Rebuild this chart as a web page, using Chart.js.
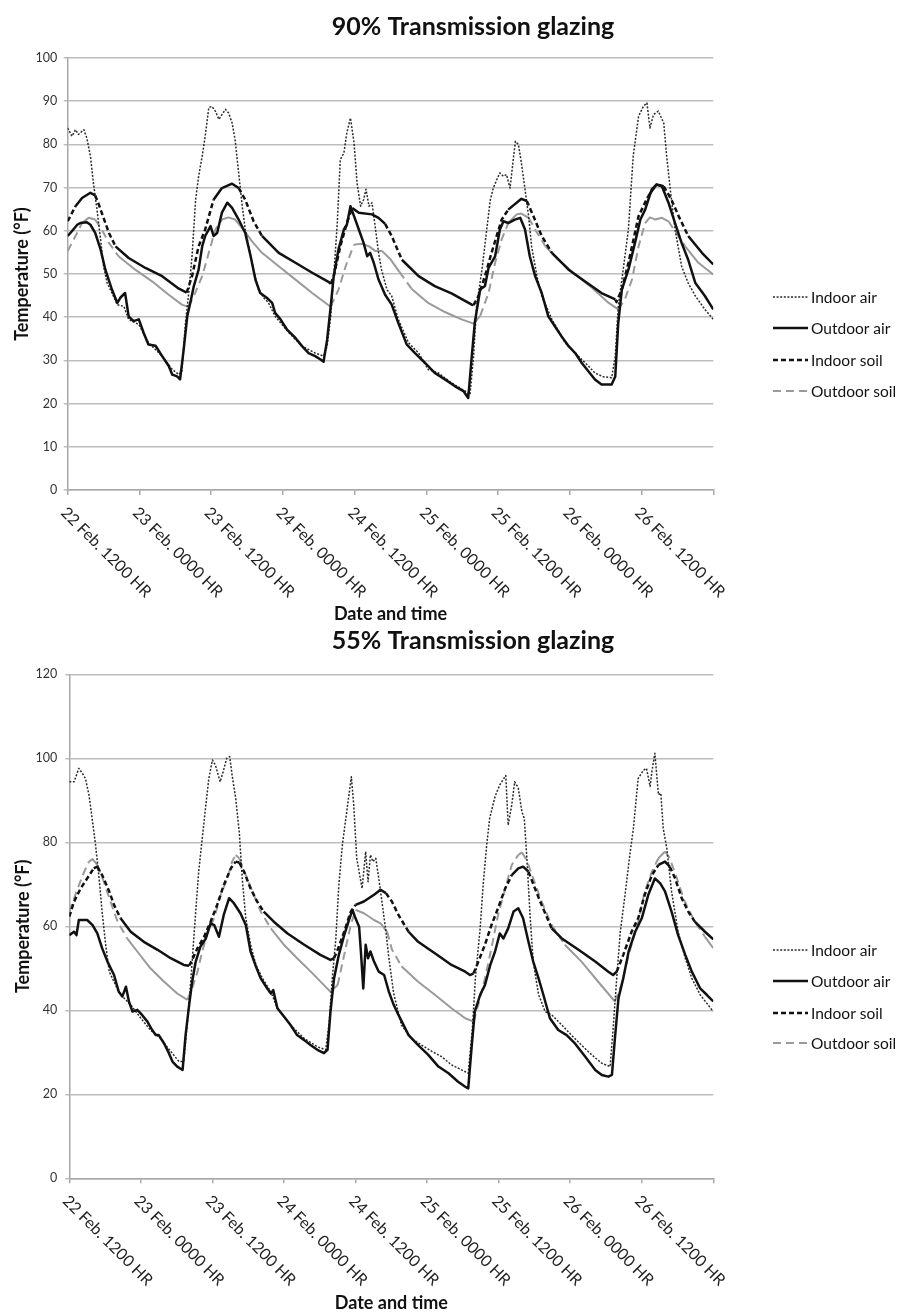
<!DOCTYPE html>
<html>
<head>
<meta charset="utf-8">
<script src="https://cdn.jsdelivr.net/npm/chart.js@4.4.1/dist/chart.umd.min.js"></script>
<style>
html,body{margin:0;padding:0;background:#fff;}
#wrap{position:relative;width:900px;height:1312px;overflow:hidden;}
.box{position:absolute;left:0;width:900px;}
canvas{display:block;}
</style>
</head>
<body>
<div id="wrap">
  <div class="box" style="top:0;height:626px"><canvas id="c90" width="900" height="626"></canvas></div>
  <div class="box" style="top:626px;height:686px"><canvas id="c55" width="900" height="686"></canvas></div>
</div>
<script>
// ---------- tick labels / axis ----------
const tickLabels = ['22 Feb. 1200 HR','23 Feb. 0000 HR','23 Feb. 1200 HR','24 Feb. 0000 HR','24 Feb. 1200 HR','25 Feb. 0000 HR','25 Feb. 1200 HR','26 Feb. 0000 HR','26 Feb. 1200 HR'];
const tickHours = [0,12,24,36,48,60,72,84,96,108];   // hours after 22 Feb 1200 HR
const seriesNames = ['Indoor air','Outdoor air','Indoor soil','Outdoor soil'];

// ---------- 90% transmission glazing: [hour, °F] ----------
const g90IndoorAir = [[0,83.8],[0.7,81.9],[1.3,83.4],[1.8,82.3],[2.7,83.4],[3.2,81.5],[3.8,77.3],[4.3,71.1],[4.9,64.9],[5.5,58],[6,51.8],[6.6,47.9],[7.4,45.6],[8.3,42.9],[9.4,42.5],[10.2,39.5],[11.9,38.3],[13.5,34.1],[15.8,31],[17.5,27.9],[18.6,26.7],[19.1,27.5],[19.7,38.7],[20.2,44.9],[20.8,54.1],[21.4,67.2],[21.9,72.6],[22.5,77.3],[23,81.9],[23.6,88.5],[24.1,88.8],[24.7,87.7],[25.3,85.8],[25.8,86.9],[26.4,88.1],[26.9,87.3],[27.5,85],[28,81.1],[28.6,73.4],[29.2,65.7],[29.7,60.3],[30.3,56.4],[31.1,51],[31.9,46.4],[32.8,44.5],[33.6,43.3],[34.7,40.2],[37,36.4],[39.2,33.3],[41.4,31.7],[42.8,31],[43.4,33.3],[44,40.2],[44.5,49.5],[45.1,61.8],[45.6,76.5],[46.2,78],[46.7,82.7],[47.3,86.1],[47.9,80.4],[48.4,71.1],[49,65.7],[49.5,67.2],[49.9,69.6],[50.4,65.7],[50.9,66.5],[51.5,60.3],[52,54.9],[52.5,51],[53.4,46.4],[54.2,44.9],[55.3,39.5],[57,34.1],[58.7,31.7],[60.3,27.9],[62,27.1],[64.2,24.8],[66.5,22.9],[67.3,22.1],[67.9,31],[68.4,42.5],[69.3,51],[70.1,60.3],[70.7,67.2],[71.2,69.9],[71.8,71.9],[72.3,73.4],[72.9,72.6],[73.4,73],[74,69.9],[74.6,77.3],[74.9,80.7],[75.4,80],[75.9,75.7],[76.5,69.6],[77.1,63.4],[77.6,56.4],[78.5,49.5],[79.3,44.9],[81,39.5],[83.2,34.1],[85.4,31],[87.1,28.7],[88.2,27.1],[89.6,26.2],[91,26],[91.6,31],[92.1,42.5],[93,51.8],[93.8,60.3],[94.6,77.3],[95.5,86.5],[96.3,88.8],[96.9,89.6],[97.4,83.8],[98,86.9],[98.8,87.7],[99.7,85],[100.2,77.3],[100.8,69.6],[101.6,60.3],[102.7,51.8],[103.8,47.9],[105,44.9],[106.6,41.8],[108,39.5]];
const g90OutdoorAir = [[0,58.8],[0.7,59.9],[1.6,61.4],[2.1,61.8],[3.2,62],[3.8,61.4],[4.6,59.5],[5.5,55.7],[6.3,51],[7.4,46.4],[8.3,43.3],[8.8,44.5],[9.6,45.6],[10.2,40.2],[11,39.1],[11.9,39.5],[12.7,36.4],[13.5,33.7],[14.7,33.4],[15.8,31],[16.9,28.7],[17.5,26.7],[18.3,26.3],[18.8,25.6],[19.4,32.5],[20,40.2],[20.5,43.3],[21.1,47.2],[21.9,51],[22.5,56.4],[23,58.8],[23.9,61.1],[24.4,58.8],[25,59.5],[25.8,64.2],[26.7,66.5],[27.5,65.3],[28.6,62.6],[29.7,59.5],[30.6,54.1],[31.4,48.7],[32.2,45.6],[33.3,44.5],[34.2,43.3],[34.7,41],[35.6,39.5],[36.7,37.1],[38.1,35.2],[39.2,33.3],[40.3,31.7],[41.4,31],[42.3,30.2],[42.8,29.7],[43.4,34.8],[44,42.5],[44.5,49.5],[45.3,55.7],[46.2,60.3],[46.7,61.4],[47.3,65.7],[47.9,63.4],[48.7,60.3],[49.5,57.2],[50.1,54.1],[50.6,54.9],[51.2,52.6],[52,48.7],[53.1,45.2],[54.2,42.9],[55.3,38.7],[56.7,33.7],[58.1,31.7],[59.8,29.4],[61.4,27.1],[63.1,25.6],[64.8,24],[66.2,22.9],[67,21.3],[67.6,31],[68.1,38.7],[69,46.4],[69.8,47.2],[70.4,51.4],[71.5,54.1],[72.3,60.3],[72.9,62.2],[73.7,61.8],[74.8,62.6],[75.7,63],[76.5,60.3],[77.3,54.1],[78.2,49.5],[79.3,45.6],[80.4,40.2],[81.5,37.9],[82.6,35.6],[83.8,33.3],[84.9,31.7],[86,29.4],[87.1,27.5],[88.2,25.6],[89.3,24.4],[91,24.4],[91.6,26.3],[92.1,38.7],[92.7,46.4],[93.8,51],[94.9,57.2],[95.8,62.6],[96.6,64.9],[97.7,69.6],[98.5,70.7],[99.4,70.3],[100.5,66.5],[101.6,61.8],[102.7,57.2],[103.8,53.3],[105,47.9],[106.6,44.9],[108,41.8]];
const g90IndoorSoil = [[0,62.2],[1.3,65.7],[2.4,67.6],[3.8,68.8],[4.6,68.2],[5.2,66.1],[6.9,59.5],[8,56.4],[10.2,53.7],[13,51.4],[15.8,49.5],[18.6,46.6],[19.9,45.7],[20.8,49.5],[21.9,56.4],[23,60.3],[24.4,67.2],[25.8,69.9],[27.5,70.9],[28.6,69.9],[29.7,67.2],[31.1,62.2],[32.5,58.8],[35.3,54.9],[38.1,52.6],[40.9,50.3],[43.7,48.1],[44,47.7],[44.5,49.5],[45.6,56.4],[46.7,61.8],[47.6,65.3],[48.7,64.2],[50.9,63.8],[52,63],[53.1,61.6],[54.2,58.8],[55.9,53.3],[58.7,49.5],[61.4,47.2],[64.2,45.5],[67.6,42.9],[67.9,42.8],[68.7,44.9],[69.8,49.5],[70.9,54.9],[72.6,62.6],[73.7,64.9],[75.9,67.4],[76.8,66.9],[77.9,63.4],[79.3,58.8],[81,54.9],[83.8,51],[86.5,48.3],[89.3,45.6],[91.6,44.1],[91.8,43.5],[92.7,46.4],[93.8,52.6],[95.5,63.4],[97.1,68],[98.5,70.7],[99.7,70.3],[101,67.2],[102.2,63.4],[103.8,58.8],[106.1,54.9],[108,52.2]];
const g90OutdoorSoil = [[0,55.3],[1.3,58.8],[2.4,61.8],[3.5,63],[4.6,62.6],[5.7,60.3],[6.9,57.2],[8.5,54.1],[11.3,51],[14.1,48.3],[16.9,45.2],[19.1,42.9],[20.2,42.4],[21.1,44.9],[22.5,49.5],[23.6,54.9],[24.7,60.3],[25.8,62.6],[26.9,63.1],[28,62.6],[29.4,60.3],[30.8,57.6],[32.5,54.9],[35.3,51.8],[38.1,48.7],[40.9,45.6],[43.7,42.7],[44,42.5],[45.3,46.4],[46.5,51.8],[47.9,56.8],[49.2,57],[50.4,56.4],[51.5,55.3],[52.6,55.3],[54,53.4],[55.5,50.5],[57.5,46.6],[60.3,43.3],[63.1,41.2],[65.9,39.5],[67.9,38.5],[69,40.3],[70.4,45.6],[71.5,52.6],[72.6,58],[73.7,61.8],[75.1,63.8],[75.9,64],[77.1,63],[78.2,60.3],[79.9,56.4],[82.1,53.3],[84.9,49.9],[87.7,46.8],[90.5,43.3],[92.1,41.8],[93.2,44.1],[94.4,48.7],[95.5,56.4],[96.6,61.8],[97.4,63.1],[98.3,62.6],[99.4,63],[100.5,62.2],[101.6,59.9],[103.3,56.4],[105.5,52.6],[108,49.9]];

// ---------- 55% transmission glazing: [hour, °F] ----------
const g55IndoorAir = [[0,94.4],[0.8,94.4],[1.6,97.6],[2.2,96.4],[2.7,95.2],[3.3,91.3],[3.9,84.9],[4.4,79.4],[5,71.4],[5.5,63.5],[6.1,55.6],[6.7,49.2],[7.5,46.8],[8.3,44.4],[8.9,43.3],[10.3,41.3],[12,38.1],[13.6,35.3],[15.3,33.3],[17,30.2],[18.4,27.8],[19.2,27.8],[19.8,37.3],[20.2,43.7],[20.6,51.6],[21.2,63.5],[21.7,73],[22.3,81],[22.9,88.9],[23.4,95.2],[24,99.6],[24.5,98.4],[25.3,94.4],[25.8,96.8],[26.4,100],[26.9,100.4],[27.3,96],[27.9,90.5],[28.5,82.5],[29,71.4],[29.6,61.9],[30.4,55.6],[31.3,50.8],[32.4,47.6],[33.8,44.4],[34.9,40.5],[37.1,36.5],[39.4,33.3],[41.6,31.3],[43,30.6],[43.6,37.3],[44.1,47.6],[44.7,57.1],[45.2,69.8],[45.8,79.4],[46.3,84.9],[46.9,91.3],[47.3,95.6],[47.7,88.9],[48.2,76.2],[48.8,71.4],[49.1,69],[49.7,77.8],[50.1,70.6],[50.5,77],[50.9,75.4],[51.4,76.2],[51.9,71.4],[52.5,65.1],[53.1,58.7],[53.6,52.4],[54.4,44],[55.7,36.5],[57.4,33.3],[59.1,31.7],[60.8,30.2],[62.4,29],[64.1,27],[65.8,25.8],[66.9,25],[67.6,35.7],[68.1,47.6],[68.9,59.5],[69.4,69.8],[70,79.4],[70.5,85.7],[71.4,90.9],[72.2,93.7],[73.2,95.9],[73.6,84.1],[74.2,88.9],[74.7,94.4],[75.3,92.9],[75.9,87.3],[76.3,85.7],[76.7,77],[77.3,61.9],[77.8,51.6],[78.7,43.7],[79.8,39.7],[80.9,38.9],[82.6,36.5],[84.2,34.1],[85.9,31.7],[87.6,29.4],[89.3,27.4],[90.7,26.6],[91.2,35.7],[91.8,47.6],[92.4,58.7],[93.2,67.5],[94,77],[94.6,83.3],[95.4,95.2],[96.3,97.2],[96.8,97.6],[97.4,93.3],[97.7,96.8],[98.2,101.2],[98.8,91.3],[99.2,91.7],[99.6,83.3],[100.2,78.6],[101,68.3],[102.1,58.7],[103.3,52.4],[104.4,47.6],[105.8,43.7],[106.9,41.7],[108,39.7]];
const g55OutdoorAir = [[0,57.9],[0.8,58.7],[1.2,57.9],[1.6,61.5],[3,61.5],[3.9,60.3],[4.7,58.3],[5.5,54.8],[6.4,51.6],[7.5,48.4],[8.3,44.4],[8.9,43.3],[9.5,45.6],[10,42.1],[10.6,39.7],[11.4,40.1],[12.2,38.9],[13.1,37.3],[13.9,35.3],[14.5,34.1],[15,34.1],[15.9,32.1],[16.7,29.8],[17.3,27.8],[18.1,26.6],[19,25.8],[19.5,34.1],[20.1,41.3],[20.6,46.8],[21.2,51.6],[22,55.2],[22.9,57.1],[23.7,60.7],[24.3,60.3],[25.1,57.5],[25.9,62.7],[26.8,66.7],[27.6,65.5],[28.7,63.1],[29.6,60.3],[30.4,54],[31.3,50.4],[32.1,47.6],[33.2,45.2],[33.8,44],[34.2,44.8],[34.9,40.5],[36,38.5],[37.1,36.5],[38.2,34.1],[39.4,32.9],[40.5,31.7],[41.6,30.6],[42.7,29.8],[43.3,30.6],[43.8,39.7],[44.4,47.6],[45.2,53.2],[46.1,57.9],[46.9,61.5],[47.5,63.9],[48,61.9],[48.6,59.9],[48.9,54],[49.3,45.2],[49.7,55.6],[50.1,52.4],[50.5,54],[51.1,51.6],[51.9,49.2],[52.8,48.4],[53.6,44.4],[54.4,41.3],[55.2,38.9],[56.9,34.1],[58.5,31.7],[60.2,29.4],[61.9,26.6],[63.6,25],[65.2,23],[66.4,21.8],[66.9,21.4],[67.5,31.7],[68,39.7],[68.9,43.7],[69.7,46],[70.6,50.8],[71.4,54],[72.2,58.3],[72.8,57.1],[73.6,59.5],[74.5,63.5],[75.3,64.3],[76.1,61.9],[77,56.3],[77.8,51.6],[78.7,47.6],[79.5,43.7],[80.6,38.1],[82,35.3],[83.4,34.1],[84.8,32.1],[86.5,29],[88.2,25.8],[89.3,24.6],[90.4,24.2],[91,24.6],[91.5,33.3],[92.1,42.9],[92.9,47.6],[93.8,54],[94.9,58.7],[96,61.9],[97.1,67.5],[98.2,71.4],[99.1,70.2],[99.9,68.3],[101,63.5],[102.1,57.9],[103.3,53.2],[104.4,49.2],[105.8,45.2],[106.9,43.7],[108,42.1]];
const g55IndoorSoil = [[0,62.3],[0.8,65.9],[1.9,69],[3,71.4],[4.1,73.8],[4.7,74.2],[5.5,72.2],[6.7,68.3],[7.5,65.1],[8.6,61.9],[10.3,58.7],[12.5,56.3],[14.8,54.4],[17,52.4],[19.2,50.8],[20.1,50.6],[20.6,52],[21.5,54.8],[22.6,57.5],[23.7,61.1],[24.8,65.1],[25.9,69.8],[27.1,73.8],[27.9,75.4],[28.5,75.2],[29.3,73],[30.4,69],[31.5,65.9],[32.6,63.5],[34.3,61.1],[36.6,58.3],[39.4,55.6],[42.1,53.2],[43.8,52],[44.4,52.4],[45,54.4],[46.1,58.7],[47.2,63.5],[48,65.1],[49.4,65.9],[51.1,67.5],[52.2,68.7],[53.1,67.9],[54.1,65.9],[55.2,62.7],[56.9,58.7],[58.5,56.3],[61.3,53.6],[64.1,50.8],[66.4,49.2],[67.2,48.4],[67.8,48.8],[68.6,51.6],[69.7,55.6],[70.8,60.3],[71.9,64.3],[73.1,69],[74.2,72.2],[75.3,73.8],[76.1,74.2],[77,73],[78.1,69],[79.2,65.1],[80.9,59.5],[82.6,57.1],[85.4,54.4],[88.2,51.6],[90.4,49.2],[91.2,48.4],[91.8,49.2],[92.9,53.2],[94.3,58.7],[95.4,61.9],[96.5,67.5],[97.7,72.2],[98.8,74.6],[99.9,75.4],[100.7,74.2],[101.6,71.4],[102.7,66.7],[103.8,63.5],[104.9,61.1],[106.6,58.7],[108,56.9]];
const g55OutdoorSoil = [[0,63.5],[1.4,69],[2.5,73],[3.3,75.4],[3.9,76],[4.7,74.6],[5.8,70.6],[6.9,65.9],[8.1,61.1],[9.7,57.1],[11.4,54],[13.6,50],[15.9,46.8],[18.1,44],[19.8,42.5],[20.6,45.2],[21.5,49.2],[22.3,54],[23.2,58.7],[24.3,61.9],[25.4,67.5],[26.5,71.4],[27.3,75.4],[27.9,77],[28.5,76.2],[29.6,72.2],[30.7,68.3],[32.1,63.5],[33.8,59.5],[36,55.6],[38.2,52.4],[40.5,49.2],[42.7,46],[43.8,44.4],[45,46],[46.1,53.2],[47.2,60.3],[48,63.9],[49.4,63.1],[51.1,61.5],[52.2,60.7],[53.3,58.7],[54.1,54.5],[55.7,50.5],[58.5,46.8],[61.3,43.7],[64.1,40.5],[66.4,38.1],[67.8,37.3],[68.9,42.9],[69.7,47.6],[70.8,54.8],[71.9,62.7],[73.1,69],[74.2,74.6],[75.3,77],[75.9,77.6],[76.7,75.8],[77.8,71.4],[79.2,65.9],[80.9,60.3],[83.1,55.6],[85.9,51.6],[88.7,46.8],[91.5,42.1],[92.6,46],[93.8,53.2],[95.4,61.1],[96.5,68.3],[97.7,73],[98.8,76.2],[99.9,77.8],[100.7,76.2],[101.9,71.4],[103.2,65.9],[104.9,61.1],[106.6,57.5],[108,54.8]];

// ---------- styling ----------
const FONT = 'Lato, "Open Sans", sans-serif';
const GRID = '#bdbdbd';
const AXIS = '#a8a8a8';

function steep(pattern) {
  return c => (Math.abs(c.p1.y - c.p0.y) > 1.4 * Math.abs(c.p1.x - c.p0.x) ? pattern : []);
}

function mkSet(label, data, color, width, dash, steepPattern, order) {
  const ds = {
    label, data, borderColor: color, borderWidth: width, borderDash: dash,
    legendDash: steepPattern || dash, order,
    pointRadius: 0, pointHoverRadius: 0, tension: 0, fill: false,
    borderJoinStyle: 'round', borderCapStyle: 'butt'
  };
  if (steepPattern) ds.segment = { borderDash: steep(steepPattern) };
  return ds;
}

const decor = {
  id: 'decor',
  afterDraw(chart, args, o) {
    const {ctx, chartArea} = chart;
    const xs = chart.scales.x;
    ctx.save();
    // chart title
    ctx.fillStyle = '#111';
    ctx.font = 'bold 25px ' + FONT;
    ctx.textAlign = 'center';
    ctx.textBaseline = 'middle';
    ctx.fillText(o.title, o.titleX, o.titleY);
    // rotated category labels
    ctx.font = '16px ' + FONT;
    ctx.fillStyle = '#222';
    ctx.textAlign = 'left';
    ctx.textBaseline = 'middle';
    tickLabels.forEach((t, i) => {
      const px = xs.getPixelForValue(tickHours[i]);
      ctx.save();
      ctx.translate(px - 4, chartArea.bottom + 20);
      ctx.rotate(Math.PI / 4);
      ctx.fillText(t, 0, 0);
      ctx.restore();
    });
    // legend
    ctx.font = '15.5px ' + FONT;
    ctx.fillStyle = '#111';
    chart.data.datasets.forEach((ds, i) => {
      const y = o.legendY[i];
      ctx.save();
      ctx.strokeStyle = ds.borderColor;
      ctx.lineWidth = ds.borderWidth;
      ctx.setLineDash(ds.legendDash);
      ctx.beginPath();
      ctx.moveTo(o.legendX, y);
      ctx.lineTo(o.legendX + 35, y);
      ctx.stroke();
      ctx.restore();
      ctx.fillText(ds.label, o.legendX + 38, y + 1);
    });
    ctx.restore();
  }
};

function makeChart(id, sets, yMax, yStep, geo) {
  return new Chart(document.getElementById(id), {
    type: 'line',
    data: {
      datasets: [
        mkSet(seriesNames[0], sets[0], '#2a2a2a', 1.5, [2, 1.6], null, 2),
        mkSet(seriesNames[1], sets[1], '#111111', 2.5, [], null, 0),
        mkSet(seriesNames[2], sets[2], '#111111', 2.5, [], [5, 3], 1),
        mkSet(seriesNames[3], sets[3], '#9a9a9a', 2, [], [8, 5], 3)
      ]
    },
    options: {
      responsive: false,
      devicePixelRatio: 1,
      animation: false,
      events: [],
      layout: { padding: { left: 0, top: geo.top, right: geo.right, bottom: 0 } },
      scales: {
        x: {
          type: 'linear', min: 0, max: 108,
          afterBuildTicks: s => { s.ticks = tickHours.map(v => ({ value: v })); },
          afterFit: s => { s.height = geo.xHeight; },
          ticks: { display: false },
          grid: { drawOnChartArea: false, drawTicks: true, tickLength: 5, color: AXIS, lineWidth: 1.5 },
          border: { color: AXIS, width: 1.5 },
          title: { display: true, text: 'Date and time', color: '#111',
                   font: { family: FONT, size: 18, weight: 'bold', lineHeight: 1.0 },
                   padding: { top: 0, bottom: geo.xTitlePad } }
        },
        y: {
          min: 0, max: yMax,
          afterFit: s => { s.width = geo.yWidth; },
          ticks: { stepSize: yStep, color: '#333', padding: geo.yTickPad, font: { family: FONT, size: 12.5 } },
          grid: { color: GRID, lineWidth: 1.5, tickLength: 4, drawTicks: true },
          border: { color: AXIS, width: 1.5 },
          title: { display: true, text: 'Temperature (°F)', color: '#111',
                   font: { family: FONT, size: 18, weight: 'bold', lineHeight: 1.0 },
                   padding: { top: geo.yTitlePad, bottom: 0 } }
        }
      },
      plugins: {
        legend: { display: false },
        tooltip: { enabled: false },
        decor: { title: geo.title, titleX: 473, titleY: geo.titleY, legendX: 773, legendY: geo.legendY }
      }
    },
    plugins: [decor]
  });
}

function draw() {
  makeChart('c90', [g90IndoorAir, g90OutdoorAir, g90IndoorSoil, g90OutdoorSoil], 100, 10, {
    top: 58, right: 186.7, xHeight: 136, yWidth: 67.7, yTickPad: 6.5, yTitlePad: 13, xTitlePad: 3,
    title: '90% Transmission glazing', titleY: 27, legendY: [297, 328, 360, 391]
  });
  makeChart('c55', [g55IndoorAir, g55OutdoorAir, g55IndoorSoil, g55OutdoorSoil], 120, 20, {
    top: 48.3, right: 186.7, xHeight: 133.7, yWidth: 69.3, yTickPad: 8, yTitlePad: 14.5, xTitlePad: 0,
    title: '55% Transmission glazing', titleY: 15, legendY: [324, 355, 387, 417]
  });
}

if (document.fonts && document.fonts.load) {
  Promise.all([document.fonts.load('16px Lato'), document.fonts.load('bold 16px Lato')]).then(draw, draw);
} else { draw(); }
</script>
</body>
</html>
